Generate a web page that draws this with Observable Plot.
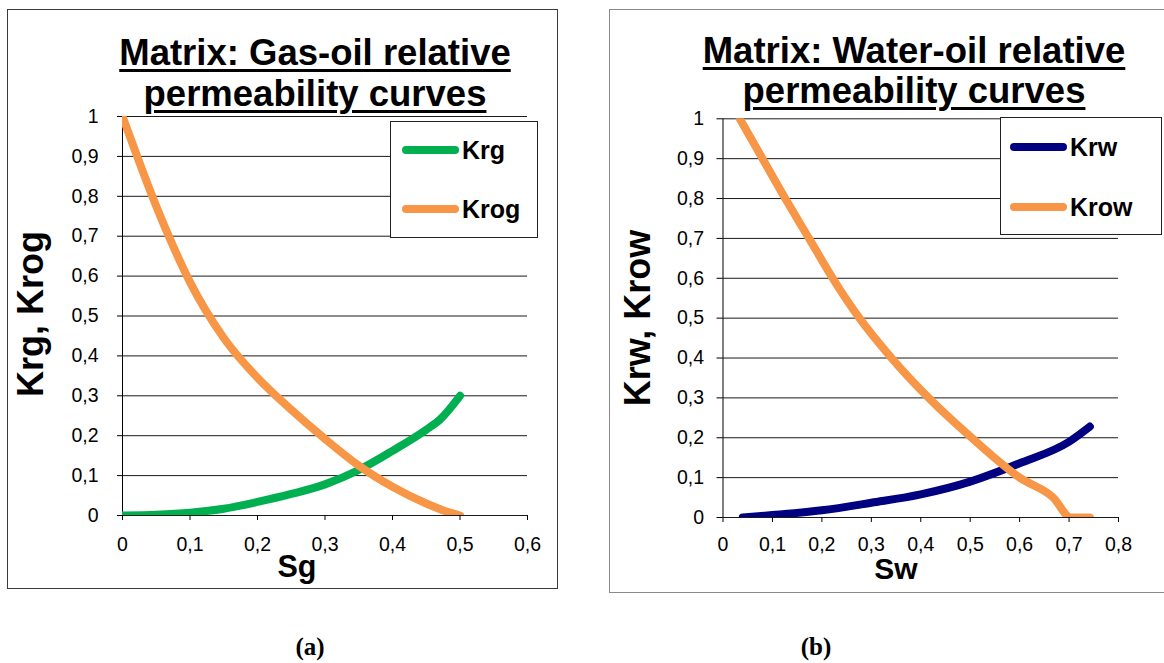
<!DOCTYPE html>
<html>
<head>
<meta charset="utf-8">
<script src="https://cdn.jsdelivr.net/npm/d3@7"></script>
<script src="https://cdn.jsdelivr.net/npm/@observablehq/plot@0.6"></script>
<style>
  html, body { margin: 0; padding: 0; background: #fff; }
  body { width: 1164px; height: 663px; position: relative; overflow: hidden;
         font-family: "Liberation Sans", Arial, sans-serif; color: #000; }
  .frame { position: absolute; box-sizing: border-box; }
  .txt { position: absolute; white-space: nowrap; }
  .legend { position: absolute; box-sizing: border-box; background: #fff; border: 1px solid #222; }
  .sw { position: absolute; height: 8px; border-radius: 4px; }
  svg { overflow: visible; }
</style>
</head>
<body>
<script>
// ---------------- data ----------------
// (a) Gas-oil
const sgKrg   = [0, 0.05, 0.10, 0.15, 0.20, 0.25, 0.30, 0.35, 0.40, 0.45, 0.47, 0.50];
const krg     = [0, 0.002, 0.007, 0.017, 0.034, 0.054, 0.078, 0.114, 0.162, 0.215, 0.240, 0.300];
const sgKrog  = [0, 0.025, 0.05, 0.075, 0.10, 0.15, 0.20, 0.25, 0.30, 0.35, 0.40, 0.45, 0.48, 0.50];
const krog    = [1.0, 0.885, 0.775, 0.675, 0.585, 0.445, 0.345, 0.265, 0.192, 0.125, 0.072, 0.030, 0.010, 0.0];
// (b) Water-oil
const swKrw   = [0.04, 0.10, 0.20, 0.30, 0.40, 0.50, 0.60, 0.70, 0.742];
const krw     = [0.0, 0.006, 0.018, 0.037, 0.058, 0.090, 0.136, 0.190, 0.228];
const swKrow  = [0.034, 0.08, 0.126, 0.174, 0.222, 0.276, 0.341, 0.416, 0.503, 0.60, 0.668, 0.704, 0.742];
const krow    = [1.0, 0.9, 0.8, 0.7, 0.6, 0.5, 0.4, 0.3, 0.2, 0.1, 0.05, 0.0, 0.0];
// ticks
const yTicks  = [0, 0.1, 0.2, 0.3, 0.4, 0.5, 0.6, 0.7, 0.8, 0.9, 1];
const xTicksA = [0, 0.1, 0.2, 0.3, 0.4, 0.5, 0.6];
const xTicksB = [0, 0.1, 0.2, 0.3, 0.4, 0.5, 0.6, 0.7, 0.8];
// text
const titleA = ["Matrix: Gas-oil relative", "permeability curves"];
const titleB = ["Matrix: Water-oil relative", "permeability curves"];
const seriesA = ["Krg", "Krog"];
const seriesB = ["Krw", "Krow"];
const colorsA = ["#00B050", "#F79646"];
const colorsB = ["#000080", "#F79646"];

// ---------------- helpers ----------------
const fmt = d => String(+(+d).toFixed(1)).replace(".", ",");
const rows = (xs, ys, name) => xs.map((x, i) => ({x, y: ys[i], name}));
const SANS = '"Liberation Sans", Arial, sans-serif';
const SERIF = '"Liberation Serif", "Times New Roman", serif';
const LH = 0.8; // tight line box

function el(cls, css, text, parent = document.body) {
  const d = document.createElement("div");
  d.className = cls;
  Object.assign(d.style, css);
  if (text != null) d.textContent = text;
  parent.appendChild(d);
  return d;
}
function ascOf(serif) {
  const a = serif ? 0.891 : 0.905, d = serif ? 0.216 : 0.212;
  return (LH - (a + d)) / 2 + a;
}
// text whose horizontal center is cx and whose baseline is at y
function textAt(text, cx, baseline, fs, opts = {}) {
  return el("txt", {
    left: cx + "px", top: (baseline - ascOf(opts.serif) * fs) + "px", fontSize: fs + "px", lineHeight: LH,
    fontWeight: "bold", fontFamily: opts.serif ? SERIF : SANS,
    transform: "translateX(-50%)", textDecoration: opts.underline ? "underline" : "none",
    textDecorationThickness: opts.underline ? "2.5px" : null, textUnderlineOffset: opts.underline ? "4px" : null
  }, text);
}
// rotated (-90deg) text; baseline at x = bx, vertical center cy
function vtextAt(text, bx, cy, fs) {
  const cx = bx - (ascOf(false) - LH / 2) * fs;
  return el("txt", {
    left: cx + "px", top: cy + "px", fontSize: fs + "px", lineHeight: LH, fontWeight: "bold", fontFamily: SANS,
    transform: "translate(-50%,-50%) rotate(-90deg)"
  }, text);
}

function chart({left, width, xDomain, xTicks, mL, mR, mT, mB, tickSizeY, padY, padX, series}) {
  const svg = Plot.plot({
    width, height: 600,
    marginLeft: mL, marginRight: mR, marginTop: mT, marginBottom: mB,
    x: {domain: xDomain}, y: {domain: [0, 1]},
    style: {fontFamily: SANS, fontSize: "19px", color: "#000", background: "transparent", overflow: "visible"},
    marks: [
      Plot.ruleY(yTicks, {stroke: "#1a1a1a", strokeWidth: 1}),
      Plot.ruleX([0], {stroke: "#000", strokeWidth: 1}),
      Plot.axisY({ticks: yTicks, tickSize: tickSizeY, tickPadding: padY, tickFormat: fmt, label: null, fontSize: 19.5, stroke: "#000"}),
      Plot.axisX({ticks: xTicks, tickSize: 5, tickPadding: padX, tickFormat: fmt, label: null, fontSize: 19.5, stroke: "#000"}),
      ...series.map(s => Plot.line(s.data, {x: "x", y: "y", stroke: s.color, strokeWidth: 8,
        strokeLinecap: "round", strokeLinejoin: "round", curve: "monotone-x", clip: true}))
    ]
  });
  svg.style.position = "absolute";
  svg.style.left = left + "px";
  svg.style.top = "0px";
  document.body.appendChild(svg);
}

// ---------------- frames ----------------
el("frame", {left: "7px", top: "9px", width: "551px", height: "580px", border: "1px solid #3a3a3a"});
el("frame", {left: "609px", top: "9px", width: "570px", height: "584px", border: "1px solid #8a8a8a"});

// ---------------- chart (a) ----------------
chart({left: 0, width: 560, xDomain: [0, 0.6], xTicks: xTicksA, mL: 122, mR: 33, mT: 116, mB: 85,
  tickSizeY: 5, padY: 19, padX: 17,
  series: [
    {data: rows(sgKrg, krg, seriesA[0]), color: colorsA[0]},
    {data: rows(sgKrog, krog, seriesA[1]), color: colorsA[1]}
  ]});

// ---------------- chart (b) ----------------
chart({left: 600, width: 564, xDomain: [0, 0.8], xTicks: xTicksB, mL: 122.5, mR: 46, mT: 118.3, mB: 83,
  tickSizeY: 6, padY: 13, padX: 15,
  series: [
    {data: rows(swKrw, krw, seriesB[0]), color: colorsB[0]},
    {data: rows(swKrow, krow, seriesB[1]), color: colorsB[1]}
  ]});

// ---------------- titles ----------------
textAt(titleA[0], 315, 65, 36.5, {underline: true});
textAt(titleA[1], 315, 106, 36.5, {underline: true});
textAt(titleB[0], 914, 63.3, 36.5, {underline: true});
textAt(titleB[1], 914, 103.3, 36.5, {underline: true});

// ---------------- axis titles ----------------
vtextAt("Krg, Krog", 43, 314, 36);
vtextAt("Krw, Krow", 650, 318, 36);
textAt("Sg", 297, 577, 30.5);
textAt("Sw", 896, 579, 30);

// ---------------- captions ----------------
textAt("(a)", 310, 655, 25, {serif: true});
textAt("(b)", 816, 655, 25, {serif: true});

// ---------------- legends ----------------
function legend(x, y, w, h, names, colors, swX, swW, textX, ys, fs) {
  const box = el("legend", {left: x + "px", top: y + "px", width: w + "px", height: h + "px"});
  names.forEach((n, i) => {
    el("sw", {left: (swX - x - 1) + "px", top: (ys[i] - y - 1 - 4) + "px", width: swW + "px", background: colors[i]}, null, box);
    const capMid = 0.358 * fs;
    el("txt", {left: (textX - x - 1) + "px", top: (ys[i] + capMid - ascOf(false) * fs - y - 1) + "px",
      fontSize: fs + "px", lineHeight: LH, fontWeight: "bold", fontFamily: SANS}, n, box);
  });
}
legend(390, 121, 148, 117, seriesA, colorsA, 402, 57, 462, [150, 209], 25);
legend(1000, 117, 162, 118, seriesB, colorsB, 1010, 57, 1070, [147, 207], 25);
</script>
</body>
</html>
